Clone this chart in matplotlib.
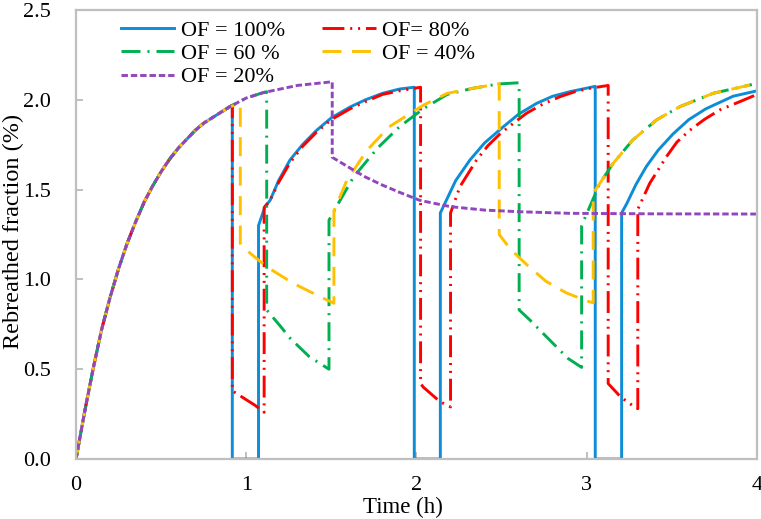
import numpy as np
import matplotlib
matplotlib.use("Agg")
import matplotlib.pyplot as plt

# shared wash-in curve
rise_t = [0.00, 0.05, 0.10, 0.15, 0.20, 0.25, 0.30, 0.35, 0.40, 0.45, 0.50, 0.55,
          0.60, 0.65, 0.70, 0.75, 0.80, 0.85, 0.90, 1.00, 1.10, 1.20, 1.30, 1.40, 1.50]
rise_y = [0.00, 0.26, 0.50, 0.72, 0.90, 1.06, 1.20, 1.32, 1.43, 1.52, 1.60, 1.67,
          1.73, 1.78, 1.83, 1.87, 1.90, 1.93, 1.96, 2.01, 2.04, 2.06, 2.08, 2.09, 2.10]

# OF = 100%
of100_t = [0.918, 0.918, 1.072, 1.072, 1.11, 1.14, 1.19, 1.257, 1.33, 1.413, 1.50, 1.61,
           1.70, 1.80, 1.90, 1.987, 1.987, 2.14, 2.14, 2.167, 2.23, 2.314, 2.40, 2.51,
           2.60, 2.705, 2.80, 2.90, 3.05, 3.05, 3.205, 3.205, 3.234, 3.29, 3.351, 3.42,
           3.507, 3.60, 3.70, 3.86, 4.00]
of100_y = [1.97, 0.00, 0.00, 1.30, 1.405, 1.44, 1.55, 1.665, 1.75, 1.83, 1.90, 1.96,
           2.00, 2.036, 2.06, 2.07, 0.00, 0.00, 1.37, 1.424, 1.55, 1.665, 1.76, 1.85,
           1.92, 1.98, 2.02, 2.045, 2.075, 0.00, 0.00, 1.37, 1.42, 1.53, 1.63, 1.72,
           1.81, 1.89, 1.95, 2.02, 2.05]

# OF = 80%
of80_t = [0.918, 0.918, 1.00, 1.05, 1.105, 1.105, 1.14, 1.19, 1.257, 1.33, 1.413, 1.50,
          1.61, 1.70, 1.80, 1.90, 2.024, 2.024, 2.04, 2.137, 2.20, 2.20, 2.255, 2.353,
          2.42, 2.49, 2.57, 2.646, 2.74, 2.842, 2.93, 3.018, 3.126, 3.126, 3.198, 3.25,
          3.30, 3.30, 3.37, 3.468, 3.53, 3.605, 3.69, 3.78, 3.90, 4.00]
of80_y = [1.97, 0.38, 0.33, 0.30, 0.26, 1.40, 1.44, 1.54, 1.65, 1.74, 1.82, 1.89,
          1.95, 1.99, 2.03, 2.05, 2.07, 0.42, 0.40, 0.32, 0.29, 1.37, 1.516, 1.665,
          1.745, 1.81, 1.87, 1.925, 1.975, 2.017, 2.045, 2.064, 2.08, 0.42, 0.347, 0.31,
          0.28, 1.39, 1.535, 1.683, 1.765, 1.83, 1.89, 1.943, 1.99, 2.03]

# OF = 60 %
of60_t = [1.12, 1.12, 1.20, 1.26, 1.37, 1.486, 1.486, 1.53, 1.63, 1.77, 1.90, 2.04,
          2.18, 2.33, 2.48, 2.603, 2.603, 2.666, 2.764, 2.89, 2.97, 2.97, 3.077, 3.155,
          3.27, 3.41, 3.547, 3.742, 3.97]
of60_y = [2.045, 0.83, 0.74, 0.67, 0.57, 0.50, 1.33, 1.405, 1.57, 1.73, 1.85, 1.95,
          2.03, 2.064, 2.088, 2.095, 0.83, 0.774, 0.68, 0.56, 0.51, 1.30, 1.535, 1.646,
          1.776, 1.888, 1.962, 2.036, 2.085]

# OF = 40%
of40_t = [0.965, 0.965, 1.00, 1.06, 1.12, 1.276, 1.433, 1.515, 1.515, 1.59, 1.71, 1.84,
          2.04, 2.18, 2.33, 2.486, 2.486, 2.55, 2.65, 2.76, 2.88, 3.00, 3.038, 3.038,
          3.077, 3.155, 3.27, 3.41, 3.547, 3.742, 3.97]
of40_y = [1.98, 1.20, 1.164, 1.117, 1.07, 0.978, 0.904, 0.867, 1.38, 1.55, 1.72, 1.85,
          1.97, 2.036, 2.064, 2.09, 1.25, 1.17, 1.08, 0.99, 0.925, 0.88, 0.87, 1.48,
          1.535, 1.646, 1.776, 1.888, 1.962, 2.036, 2.085]

# OF = 20%
of20_t = [1.505, 1.505, 1.61, 1.70, 1.80, 1.90, 2.02, 2.20, 2.40, 2.60, 2.90, 3.40, 4.00]
of20_y = [2.10, 1.68, 1.62, 1.57, 1.525, 1.485, 1.44, 1.405, 1.386, 1.377, 1.368, 1.365, 1.364]


def with_rise(t, y):
    # prepend the common curve up to the first switch time
    rt = np.array(rise_t)
    ry = np.array(rise_y)
    keep = rt < t[0]
    return np.concatenate([rt[keep], t]), np.concatenate([ry[keep], y])


plt.rcParams['font.family'] = ['Liberation Serif', 'DejaVu Serif']
plt.rcParams['font.size'] = 16

fig = plt.figure(figsize=(7.61, 5.19), dpi=100)
ax = fig.add_axes([0.0999, 0.1156, 0.8948, 0.8651])

lw = 2.1
series = [
    (of100_t, of100_y, '#0C8DD6', '-', 'OF = 100%'),
    (of80_t, of80_y, '#FF0000', (0, (7.5, 2.0, 0.7, 2.0, 0.7, 2.0)), 'OF= 80%'),
    (of60_t, of60_y, '#00B050', (0, (6.5, 2.4, 0.7, 2.4)), 'OF = 60 %'),
    (of40_t, of40_y, '#FFC000', (0, (6.5, 3.6)), 'OF = 40%'),
    (of20_t, of20_y, '#9146BE', (0, (2.2, 1.0)), 'OF = 20%'),
]
lines = {}
for t, y, c, ls, lab in series:
    xt, yt = with_rise(np.array(t), np.array(y))
    ln, = ax.plot(xt, yt, color=c, linestyle=ls, linewidth=lw, label=lab)
    lines[lab] = ln

ax.set_xlim(0, 4)
ax.set_ylim(0, 2.5)
ax.set_xticks([0, 1, 2, 3, 4])
ax.set_yticks([0, 0.5, 1.0, 1.5, 2.0, 2.5])
ax.set_yticklabels(['0.0', '0.5', '1.0', '1.5', '2.0', '2.5'])

grey = '#BFBFBF'
for s in ax.spines.values():
    s.set_color(grey)
    s.set_linewidth(1.6)
ax.tick_params(direction='in', length=5, width=1.4, color=grey, labelsize=16)
ax.tick_params(axis='y', pad=18)
ax.tick_params(axis='x', pad=12)

ax.set_xlabel('Time (h)', fontsize=16.5)
ax.xaxis.set_label_coords(0.48, -0.085)
ax.set_ylabel('Rebreathed fraction (%)', fontsize=17.5)
ax.yaxis.set_label_coords(-0.0765, 0.507)

order = ['OF = 100%', 'OF = 60 %', 'OF = 20%', 'OF= 80%', 'OF = 40%']
ax.legend([lines[k] for k in order], order, ncol=2, loc='upper left',
          bbox_to_anchor=(0.066, 0.977), frameon=False, fontsize=16,
          handlelength=2.4, handletextpad=0.3, columnspacing=1.68,
          labelspacing=0.12, borderpad=0, borderaxespad=0)

fig.savefig('out.png', dpi=100)
